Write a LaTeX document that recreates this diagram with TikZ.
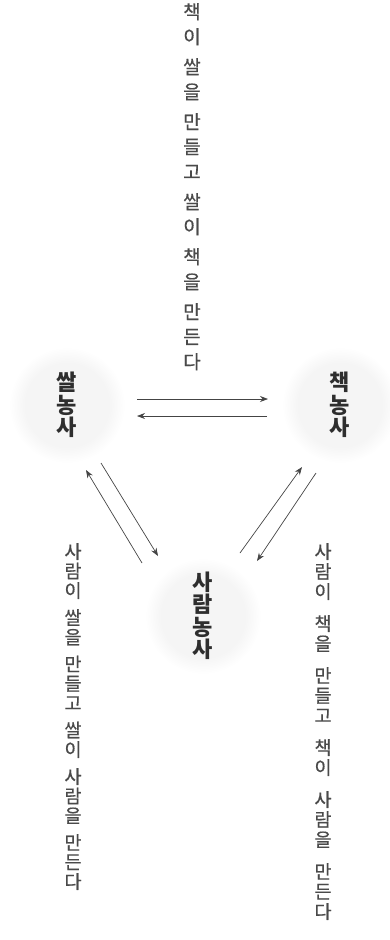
\documentclass[tikz,border=0pt]{standalone}
\usepackage{fontspec}
\newfontfamily\kr{Noto Sans CJK KR}
\newfontfamily\krt[FakeBold=0.6]{Noto Sans CJK KR}
\usetikzlibrary{calc,arrows.meta}
\pgfdeclareradialshading{softdisc}{\pgfpoint{0bp}{0bp}}{color(0bp)=(black!4); color(18bp)=(black!4); color(25bp)=(white); color(50bp)=(white)}
\definecolor{txt}{HTML}{4A4A4A}
\definecolor{lbl}{HTML}{2E2E2E}
\definecolor{ln}{HTML}{444444}
\tikzset{
  farm/.style={circle, minimum size=116pt, inner sep=0pt, shade, shading=softdisc, align=center, text=lbl, font=\kr\bfseries\fontsize{22}{22.5}\selectfont},
  coltext/.style={anchor=north, inner sep=0pt, align=center, text=txt},
  arr/.style={draw=ln, line width=0.7pt, -{Stealth[length=8pt,width=6pt]}}
}
\begin{document}
\begin{tikzpicture}[x=1pt,y=-1pt]
\useasboundingbox (0,0) rectangle (390,940);
\node[farm] (R) at (67,405) {쌀\\농\\사};
\node[farm] (B) at (340,405) {책\\농\\사};
\node[farm] (H) at (203,616) {사\\람\\농\\사};

\node[coltext, font=\krt\fontsize{19}{25}\selectfont] (top) at (192,3)
  {책\\이\\[5pt]쌀\\을\\[5pt]만\\들\\고\\[5pt]쌀\\이\\[5pt]책\\을\\[5pt]만\\든\\다};
\node[coltext, font=\krt\fontsize{18.5}{19.5}\selectfont] (left) at (73,543)
  {사\\람\\이\\[7.5pt]쌀\\을\\[7.5pt]만\\들\\고\\[7.5pt]쌀\\이\\[7.5pt]사\\람\\을\\[7.5pt]만\\든\\다};
\node[coltext, font=\krt\fontsize{18.5}{20}\selectfont] (right) at (323,543)
  {사\\람\\이\\[12pt]책\\을\\[12pt]만\\들\\고\\[12pt]책\\이\\[12pt]사\\람\\을\\[12pt]만\\든\\다};

\draw[arr] ($(R)+(70,-6)$) -- ($(B)+(-72,-6)$);
\draw[arr] ($(B)+(-73,11)$) -- ($(R)+(70,11)$);
\draw[arr] ($(H)+(-61,-53)$) -- ($(R)+(19,65)$);
\draw[arr] ($(R)+(34,58)$) -- ($(H)+(-45,-60)$);
\draw[arr] ($(H)+(37,-63)$) -- ($(B)+(-38,62)$);
\draw[arr] ($(B)+(-24,68)$) -- ($(H)+(54,-55)$);
\end{tikzpicture}
\end{document}
